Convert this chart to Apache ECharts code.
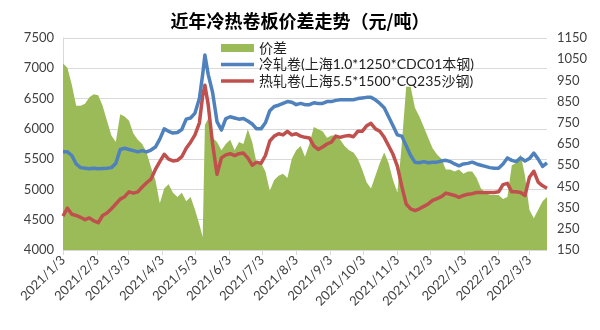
<!DOCTYPE html>
<html><head><meta charset="utf-8">
<script src="https://cdn.jsdelivr.net/npm/echarts@6/dist/echarts.min.js"></script>
<style>html,body{margin:0;padding:0;background:#fff}#c{width:600px;height:330px}</style>
</head><body><div id="c"></div>
<script>
const dates = ['2021-01-03','2021-01-07','2021-01-11','2021-01-15','2021-01-19','2021-01-23','2021-01-27','2021-01-31',
'2021-02-04','2021-02-08','2021-02-12','2021-02-16','2021-02-20','2021-02-24','2021-02-28',
'2021-03-04','2021-03-08','2021-03-12','2021-03-16','2021-03-20','2021-03-24','2021-03-28',
'2021-04-01','2021-04-05','2021-04-09','2021-04-13','2021-04-17','2021-04-21','2021-04-25','2021-04-29',
'2021-05-03','2021-05-07','2021-05-10','2021-05-12','2021-05-15','2021-05-19','2021-05-23','2021-05-27','2021-05-31',
'2021-06-04','2021-06-08','2021-06-12','2021-06-16','2021-06-20','2021-06-24','2021-06-28',
'2021-07-02','2021-07-06','2021-07-10','2021-07-14','2021-07-18','2021-07-22','2021-07-26','2021-07-30',
'2021-08-03','2021-08-07','2021-08-11','2021-08-15','2021-08-19','2021-08-23','2021-08-27','2021-08-31',
'2021-09-04','2021-09-08','2021-09-12','2021-09-16','2021-09-20','2021-09-24','2021-09-28',
'2021-10-02','2021-10-06','2021-10-10','2021-10-14','2021-10-18','2021-10-22','2021-10-26','2021-10-30',
'2021-11-03','2021-11-07','2021-11-11','2021-11-15','2021-11-19','2021-11-23','2021-11-27',
'2021-12-01','2021-12-05','2021-12-09','2021-12-13','2021-12-17','2021-12-21','2021-12-25','2021-12-29',
'2022-01-02','2022-01-06','2022-01-10','2022-01-14','2022-01-18','2022-01-22','2022-01-26','2022-01-30',
'2022-02-03','2022-02-07','2022-02-11','2022-02-15','2022-02-19','2022-02-23','2022-02-27',
'2022-03-03','2022-03-07','2022-03-11','2022-03-15','2022-03-19'];

const coldRolled = [5620,5620,5560,5420,5360,5350,5340,5350,5340,5345,5350,5360,5430,5660,5680,5660,5640,5620,5640,5620,5650,5700,
5830,6000,5960,5930,5940,5990,6160,6180,6260,6500,6900,7220,6900,6600,6120,5980,6170,
6200,6180,6160,6170,6130,6080,6000,6000,6100,6300,6370,6390,6420,6450,6440,
6400,6420,6400,6400,6430,6420,6420,6450,6450,6470,6480,6480,6480,6480,6500,
6510,6520,6520,6480,6420,6350,6200,6050,5900,5880,5720,5560,5450,5440,5460,
5440,5450,5450,5470,5480,5460,5420,5390,5420,5430,5450,5420,5400,5380,5360,5350,
5350,5420,5520,5480,5460,5520,5470,5510,5600,5500,5380,5440];

const hotRolled = [4560,4690,4590,4570,4540,4500,4530,4480,4450,4570,4610,4680,4760,4840,4880,4960,4940,4960,5040,5110,5170,5330,
5460,5580,5500,5470,5480,5540,5680,5780,5900,6100,6550,6720,6400,5750,5250,5520,5570,
5590,5560,5590,5600,5520,5400,5450,5430,5560,5800,5880,5920,5900,5960,5900,
5920,5880,5860,5850,5720,5660,5700,5750,5780,5880,5860,5880,5890,5870,5960,
5960,6050,6090,6000,5960,5860,5720,5580,5380,5050,4760,4680,4650,4680,4720,
4760,4820,4850,4880,4940,4920,4900,4870,4900,4920,4930,4950,4950,4950,4950,4950,
4960,5080,5100,4960,4960,4950,4900,5200,5300,5120,5060,5020];

const spread = [1030,1010,930,830,830,840,870,885,880,830,760,690,660,790,780,760,700,670,650,610,540,480,
370,440,460,420,400,420,380,400,340,270,210,740,770,680,660,620,650,
670,620,660,650,720,660,560,560,520,430,480,500,510,490,580,
620,640,590,650,730,720,710,680,690,690,670,640,620,610,580,
530,470,440,500,560,610,560,480,420,650,920,920,820,780,730,
680,630,600,580,530,530,520,530,510,520,520,490,440,420,410,410,
410,390,400,550,560,600,500,340,300,340,380,400];

const monthTicks = ['2021-01-03','2021-02-03','2021-03-03','2021-04-03','2021-05-03','2021-06-03','2021-07-03','2021-08-03',
'2021-09-03','2021-10-03','2021-11-03','2021-12-03','2022-01-03','2022-02-03','2022-03-03'];

const seriesNames = ['价差','冷轧卷(上海1.0*1250*CDC01本钢)','热轧卷(上海5.5*1500*CQ235沙钢)'];

function ts(s){const p=s.split('-').map(Number);return Date.UTC(p[0],p[1]-1,p[2]);}
function pair(vals){return dates.map((d,i)=>[ts(d),vals[i]]);}
const tickTs = monthTicks.map(ts);

const FONT = 'Lato, "Noto Sans CJK SC", sans-serif';
const LINE_ICON = 'path://M0,0H100V10H0Z';
const chart = echarts.init(document.getElementById('c'), null, {renderer:'canvas'});
chart.setOption({
  animation:false,
  backgroundColor:'#fff',
  title:{text:'近年冷热卷板价差走势（元/吨）',left:'center',top:7,
    textStyle:{fontSize:18,fontWeight:'bold',color:'#000',fontFamily:'"Noto Sans CJK SC", sans-serif'}},
  legend:{orient:'vertical',left:216,top:36,itemWidth:33,itemHeight:8,itemGap:2.5,
    textStyle:{fontSize:14,lineHeight:14,color:'#222',fontFamily:FONT},
    data:[{name:seriesNames[0],icon:'rect',itemStyle:{color:'#9BBB59'}},
          {name:seriesNames[1],icon:LINE_ICON,itemStyle:{color:'#4F81BD'}},
          {name:seriesNames[2],icon:LINE_ICON,itemStyle:{color:'#C0504D'}}]},
  grid:{left:63,right:53,top:38,bottom:80},
  xAxis:{type:'value',min:ts('2021-01-03'),max:ts('2022-03-19'),
    axisLine:{show:true,onZero:false,lineStyle:{color:'#D9D9D9',width:1}},
    axisTick:{show:true,length:5,customValues:tickTs,lineStyle:{color:'#D9D9D9'}},
    splitLine:{show:false},
    axisLabel:{customValues:tickTs,rotate:45,margin:8,fontSize:13,color:'#404040',fontFamily:FONT,
      formatter:function(v){const d=new Date(v);return d.getUTCFullYear()+'/'+(d.getUTCMonth()+1)+'/'+d.getUTCDate();}}},
  yAxis:[
    {type:'value',min:4000,max:7500,interval:500,position:'left',
      axisLine:{show:true,lineStyle:{color:'#D9D9D9'}},axisTick:{show:false},
      splitLine:{lineStyle:{color:'#D9D9D9',width:1}},
      axisLabel:{fontSize:13,color:'#404040',margin:9,fontFamily:FONT,formatter:v=>String(v)}},
    {type:'value',min:150,max:1150,interval:100,position:'right',
      axisLine:{show:false},axisTick:{show:false},splitLine:{show:false},
      axisLabel:{fontSize:13,color:'#404040',margin:10,fontFamily:FONT,formatter:v=>String(v)}}
  ],
  series:[
    {name:seriesNames[0],type:'line',yAxisIndex:1,data:pair(spread),symbol:'none',
      lineStyle:{width:0,color:'#9BBB59'},itemStyle:{color:'#9BBB59'},
      areaStyle:{color:'#9BBB59',opacity:1},z:1},
    {name:seriesNames[1],type:'line',yAxisIndex:0,data:pair(coldRolled),symbol:'none',
      lineStyle:{width:3.5,color:'#4F81BD',join:'round'},itemStyle:{color:'#4F81BD'},z:3},
    {name:seriesNames[2],type:'line',yAxisIndex:0,data:pair(hotRolled),symbol:'none',
      lineStyle:{width:3.5,color:'#C0504D',join:'round'},itemStyle:{color:'#C0504D'},z:2}
  ]
});
</script></body></html>
